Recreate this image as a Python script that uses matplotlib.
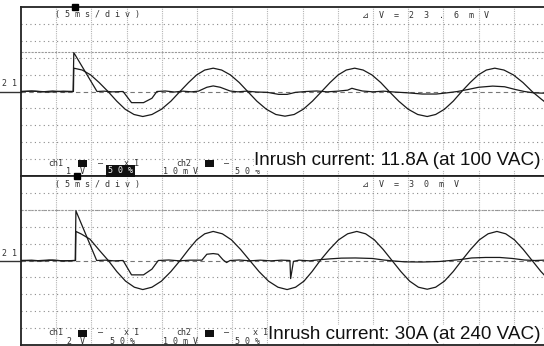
import matplotlib
matplotlib.use("Agg")
import matplotlib.pyplot as plt
from matplotlib.patches import Rectangle
from matplotlib.transforms import blended_transform_factory

W, H = 544, 346

# time in ms (5 ms/div), amplitude in screen divisions
top_volt_t = [0, 2, 4, 6, 7.45, 7.5, 8.7, 9.9, 11.1, 12.36, 13.6, 14.8, 16.05, 17.3,
              18.6, 19.95, 21.3, 22.58, 23.8, 24.95, 26.1, 27.3, 28.5, 29.75, 31.0, 32.2,
              33.5, 34.85, 36.2, 37.5, 38.8, 40.1, 41.4, 42.7, 43.9, 45.05, 46.2, 47.4,
              48.6, 49.85, 51.1, 52.3, 53.65, 55.0, 56.35, 57.7, 58.9, 60.15, 61.4, 62.6,
              63.8, 64.95, 66.1, 67.3, 68.6, 69.95, 71.3, 72.6, 73.9, 74.3]
top_volt_v = [0.0, 0.02, -0.03, 0.02, 0.0, 1.38, 1.27, 0.98, 0.53, 0.0, -0.57, -1.05, -1.36, -1.48,
              -1.36, -1.05, -0.57, 0.0, 0.53, 0.98, 1.27, 1.38, 1.27, 0.98, 0.53, 0.0,
              -0.57, -1.05, -1.36, -1.46, -1.36, -1.05, -0.57, 0.0, 0.53, 0.98, 1.27, 1.38,
              1.27, 0.98, 0.53, 0.0, -0.57, -1.05, -1.36, -1.48, -1.36, -1.05, -0.57, 0.0,
              0.53, 0.98, 1.27, 1.38, 1.27, 0.98, 0.53, 0.0, -0.45, -0.58]

top_curr_t = [0, 1.5, 3, 4.5, 6, 7.4, 7.5, 10.8, 11.8, 13, 14.5, 15.7, 17.4, 18.6, 19.3,
              20.5, 21.8, 23, 24.2, 25.2, 26.4, 27.3, 28.3, 29.7, 30.8, 32, 33.5, 35,
              36.6, 37.8, 39, 40.5, 42, 43.5, 45, 46.4, 47.0, 47.6, 48.5, 50, 51.5, 53,
              55, 57, 59, 60.5, 62, 63.5, 65, 67, 68.7, 70.2, 71.5, 72.8, 74.3]
top_curr_v = [0.0, 0.03, -0.02, 0.03, -0.02, 0.0, 2.30, 0.0, 0.02, -0.02, 0.0, -0.66, -0.66, -0.40, 0.0,
              0.03, -0.03, 0.02, -0.02, 0.02, 0.25, 0.33, 0.25, 0.03, -0.02, 0.02, -0.03, -0.05,
              -0.17, -0.17, -0.05, 0.0, 0.03, -0.02, 0.02, 0.08, 0.19, 0.12, 0.03, -0.02, 0.02, -0.03,
              -0.08, -0.15, -0.15, -0.08, 0.0, 0.12, 0.25, 0.32, 0.28, 0.12, 0.0, -0.08, -0.1]

bot_volt_t = [0, 2, 4, 6, 7.75, 7.8, 8.6, 9.8, 11.2, 12.4, 13.6, 14.85, 16.1, 17.3,
              18.6, 19.95, 21.3, 22.6, 23.8, 24.95, 26.1, 27.3, 28.6, 29.9, 31.2, 32.5,
              33.8, 35.15, 36.5, 37.8, 39.0, 40.2, 41.35, 42.5, 43.8, 45.1, 46.4, 47.7,
              48.95, 50.2, 51.45, 52.7, 53.95, 55.2, 56.45, 57.7, 58.9, 60.15, 61.4, 62.6,
              63.85, 65.1, 66.35, 67.6, 68.85, 70.1, 71.35, 72.6, 73.85, 74.3]
bot_volt_v = [0.0, -0.02, 0.03, -0.02, 0.0, 1.72, 1.56, 1.26, 0.57, 0.0, -0.65, -1.22, -1.58, -1.72,
              -1.58, -1.22, -0.65, 0.0, 0.65, 1.22, 1.58, 1.72, 1.58, 1.22, 0.65, 0.0,
              -0.65, -1.22, -1.58, -1.72, -1.58, -1.22, -0.65, 0.0, 0.65, 1.22, 1.58, 1.72,
              1.58, 1.22, 0.65, 0.0, -0.65, -1.22, -1.58, -1.70, -1.58, -1.22, -0.65, 0.0,
              0.65, 1.22, 1.58, 1.72, 1.58, 1.22, 0.65, 0.0, -0.65, -0.85]

bot_curr_t = [0, 1.5, 3, 4.5, 6, 7.7, 7.8, 10.75, 12, 13.2, 14.5, 15.7, 17.4, 18.6, 19.5,
              21, 22.5, 24, 25.7, 26.4, 27.3, 28.0, 28.7, 29.2, 29.7, 31, 32.5, 34, 35.5,
              37, 38.2, 38.3, 38.7, 39.5, 41, 42.5, 44, 45.5, 47.5, 49.9, 51.5, 53, 54.5,
              57, 59.4, 61, 62.5, 64, 66, 68, 69.8, 71.5, 73, 74.3]
bot_curr_v = [0.0, 0.02, -0.03, 0.02, -0.02, 0.0, 2.94, 0.0, 0.02, -0.02, 0.0, -0.85, -0.85, -0.51, 0.0,
              0.03, -0.02, 0.02, 0.02, 0.37, 0.41, 0.37, 0.04, -0.12, 0.0, 0.03, -0.02, 0.02, -0.02,
              0.02, 0.0, -1.07, -0.05, 0.02, -0.02, 0.05, 0.10, 0.14, 0.15, 0.12, 0.03, -0.03, -0.08,
              -0.09, -0.06, 0.0, 0.06, 0.15, 0.18, 0.18, 0.12, 0.03, 0.0, 0.02]

trigger_t = [7.5, 7.8]
cursor_level = [2.34, 3.0]
delta_v = ["⊿  V  =  2  3  .  6  m  V", "⊿  V  =  3  0  m  V"]
ch1_scale = ["1", "2"]
captions = ["Inrush current: 11.8A (at 100 VAC)", "Inrush current: 30A (at 240 VAC)"]

MS_PER_DIV = 5
X_MAX = 523 / 35.2 * MS_PER_DIV

MONO = ['DejaVu Sans Mono', 'DejaVu Sans', 'Noto Sans CJK JP']
plt.rcParams['font.family'] = MONO

fig = plt.figure(figsize=(W / 100, H / 100), dpi=100, facecolor='white')


def fpos(x, y):
    return x / W, 1 - y / H


panels = [
    (fig.add_axes([21 / W, 1 - 176 / H, 523 / W, 169 / H]), top_volt_t, top_volt_v, top_curr_t, top_curr_v),
    (fig.add_axes([21 / W, 1 - 345 / H, 523 / W, 169 / H]), bot_volt_t, bot_volt_v, bot_curr_t, bot_curr_v),
]

small = dict(fontsize=6, color='#333333', family=MONO, va='center')

for i, (ax, vt, vv, ct, cv) in enumerate(panels):
    ax.set_xlim(0, X_MAX)
    ax.set_ylim(-5, 5)
    ax.set_xticks([])
    ax.set_yticks([])
    for side in ['left', 'top', 'bottom']:
        ax.spines[side].set_color('#222222')
        ax.spines[side].set_linewidth(1.3)
    ax.spines['right'].set_visible(False)

    for k in range(1, 15):
        ax.axvline(k * MS_PER_DIV, color='#b5b5b5', lw=0.8, ls=(0, (1, 1)), zorder=1)
    for j in range(-4, 5):
        if j != 0:
            ax.axhline(j, color='#8a8a8a', lw=0.8, ls=(0, (1, 3)), zorder=1)
    ax.axhline(0, color='#777777', lw=0.8, ls=(0, (4, 3)), zorder=1)
    ax.axhline(cursor_level[i], color='#999999', lw=0.8, ls=(0, (2, 1)), zorder=1)

    ax.plot(vt, vv, color='#1a1a1a', lw=0.9, zorder=3)
    ax.plot(ct, cv, color='#1a1a1a', lw=0.9, zorder=3)

    # ground marker outside the frame
    tr = blended_transform_factory(ax.transAxes, ax.transData)
    ax.plot([-21 / 523, 0], [0, 0], color='#333333', lw=1.0, transform=tr, clip_on=False)
    # trigger flag
    ax.plot([trigger_t[i] + 0.2], [5], marker='s', ms=4, color='black', clip_on=False, zorder=5)

    off = i * 169.5
    fig.text(*fpos(2, 84 + off), "2 1", **small)
    fig.text(*fpos(55, 15 + off), "( 5 m s / d i v )", **small)
    fig.text(*fpos(362, 15 + off), delta_v[i], **small)
    fig.text(*fpos(48, 163 + off), "ch1", **small)
    fig.text(*fpos(66, 171.5 + off), ch1_scale[i], **small)
    fig.text(*fpos(80, 172 + off), "V", **small)
    fig.text(*fpos(98, 163.5 + off), "—", **small)
    fig.text(*fpos(124, 163 + off), "x 1", **small)
    fig.text(*fpos(176, 163 + off), "ch2", **small)
    fig.text(*fpos(163, 171.5 + off), "1 0 m V", **small)
    fig.text(*fpos(224, 163.5 + off), "—", **small)
    fig.text(*fpos(253, 163 + off), "x 1", **small)
    fig.text(*fpos(235, 171.5 + off), "5 0 %", **small)
    for x0 in (78, 205):
        fig.patches.append(Rectangle(fpos(x0, 167 + off), 9 / W, 7 / H, transform=fig.transFigure,
                                     facecolor='#111111', edgecolor='none', zorder=5))
    if i == 0:
        fig.text(*fpos(108, 171 + off), "5 0 %", fontsize=6, color='white', family=MONO,
                 va='center', bbox=dict(facecolor='#111111', edgecolor='none', pad=1.2))
    else:
        fig.text(*fpos(110, 171.5 + off), "5 0 %", **small)

    fig.text(*fpos(541, 165 + off * 1.025), captions[i], fontsize=13.6, ha='right', va='baseline',
             family=['Liberation Sans', 'DejaVu Sans'], color='#111111', zorder=10,
             bbox=dict(facecolor='white', edgecolor='none', pad=0.5))

fig.savefig('out.png', dpi=100, facecolor='white')
